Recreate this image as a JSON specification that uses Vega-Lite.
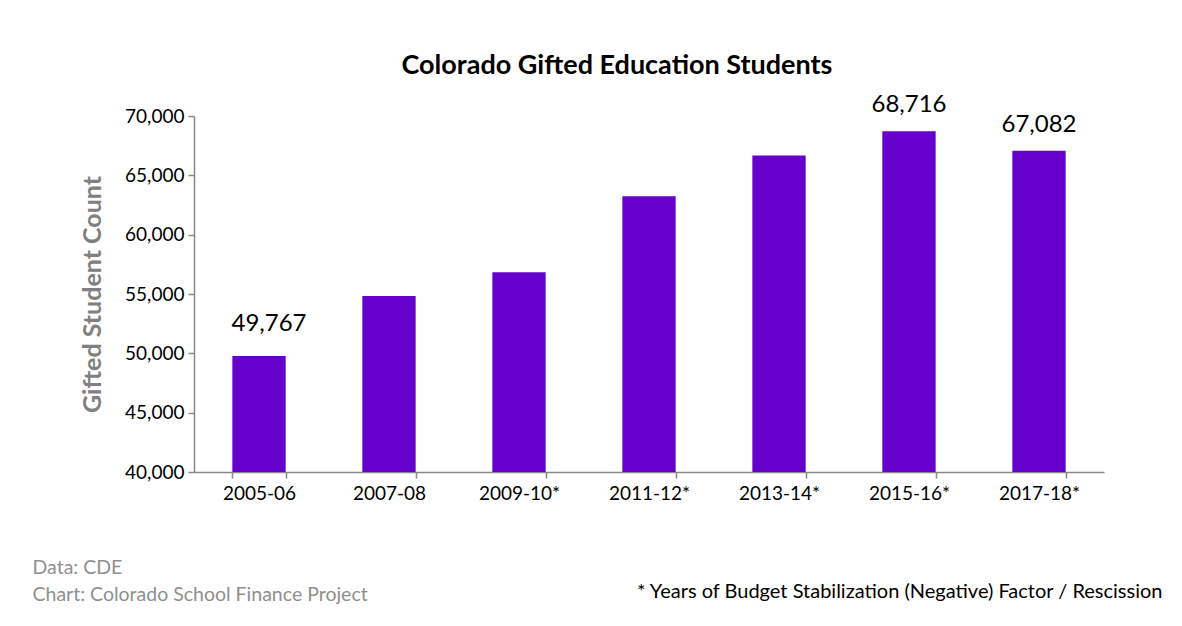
{
  "$schema": "https://vega.github.io/schema/vega-lite/v6.json",
  "width": 910,
  "height": 356,
  "autosize": "none",
  "padding": {"left": 194, "top": 116, "right": 78, "bottom": 154},
  "background": "white",
  "config": {"font": "Lato", "view": {"stroke": null}},
  "title": {"text": "Colorado Gifted Education Students", "fontSize": 27, "fontWeight": "bold", "color": "black", "anchor": "middle", "dx": -32, "offset": 13},
  "data": {"values": [
    {"year": "2005-06", "students": 49767},
    {"year": "2007-08", "students": 54840},
    {"year": "2009-10*", "students": 56830},
    {"year": "2011-12*", "students": 63240},
    {"year": "2013-14*", "students": 66670},
    {"year": "2015-16*", "students": 68716},
    {"year": "2017-18*", "students": 67082}
  ]},
  "encoding": {
    "y": {"field": "students", "type": "quantitative", "scale": {"domain": [40000, 70000], "nice": false},
      "axis": {"values": [40000, 45000, 50000, 55000, 60000, 65000, 70000], "labelExpr": "format(datum.value, ',')", "grid": false, "domainColor": "#888888", "domainWidth": 1.5, "tickColor": "#888888", "tickSize": 6, "tickWidth": 1.5, "labelFontSize": 19, "labelColor": "black", "labelPadding": 4, "title": "Gifted Student Count", "titleFontSize": 25, "titleFontWeight": "bold", "titleColor": "#808080", "titleX": -102, "titleY": 178, "titleAngle": -90, "titleAlign": "center", "titleBaseline": "middle"}}
  },
  "layer": [
    {
      "mark": {"type": "bar", "color": "#6600CC", "clip": true},
      "encoding": {
        "x": {"field": "year", "type": "nominal", "sort": null, "scale": {"paddingInner": 0.59, "paddingOuter": 0.295},
          "axis": {"orient": "bottom", "ticks": true, "tickBand": "extent", "tickColor": "#888888", "tickSize": 6, "tickWidth": 1.5, "domainColor": "#888888", "domainWidth": 1.5, "labelFontSize": 19, "labelColor": "black", "labelPadding": 6, "labelAngle": 0, "title": "* Years of Budget Stabilization (Negative) Factor / Rescission", "titleX": 968, "titleY": 119, "titleAlign": "right", "titleAnchor": "end", "titleBaseline": "middle", "titleFontSize": 20, "titleFontWeight": "normal", "titleColor": "black"}}
      }
    },
    {
      "transform": [{"filter": "datum.year == '2005-06'"}],
      "mark": {"type": "text", "fontSize": 24, "color": "black", "dy": -32, "dx": 10},
      "encoding": {
        "x": {"field": "year", "type": "nominal", "sort": null,
          "axis": {"orient": "bottom", "domain": false, "labels": false, "ticks": false, "title": ["Data: CDE", "Chart: Colorado School Finance Project"], "titleX": -162, "titleY": 86, "titleAlign": "left", "titleAnchor": "start", "titleBaseline": "top", "titleFontSize": 19.5, "titleFontWeight": "normal", "titleColor": "#8f8f8f", "titleLineHeight": 27}},
        "text": {"field": "students", "type": "quantitative", "format": ","}
      }
    },
    {
      "transform": [{"filter": "datum.year == '2015-16*' || datum.year == '2017-18*'"}],
      "mark": {"type": "text", "fontSize": 24, "color": "black", "dy": -26},
      "encoding": {
        "x": {"field": "year", "type": "nominal", "sort": null, "axis": null},
        "text": {"field": "students", "type": "quantitative", "format": ","}
      }
    }
  ],
  "resolve": {"axis": {"x": "independent"}}
}
